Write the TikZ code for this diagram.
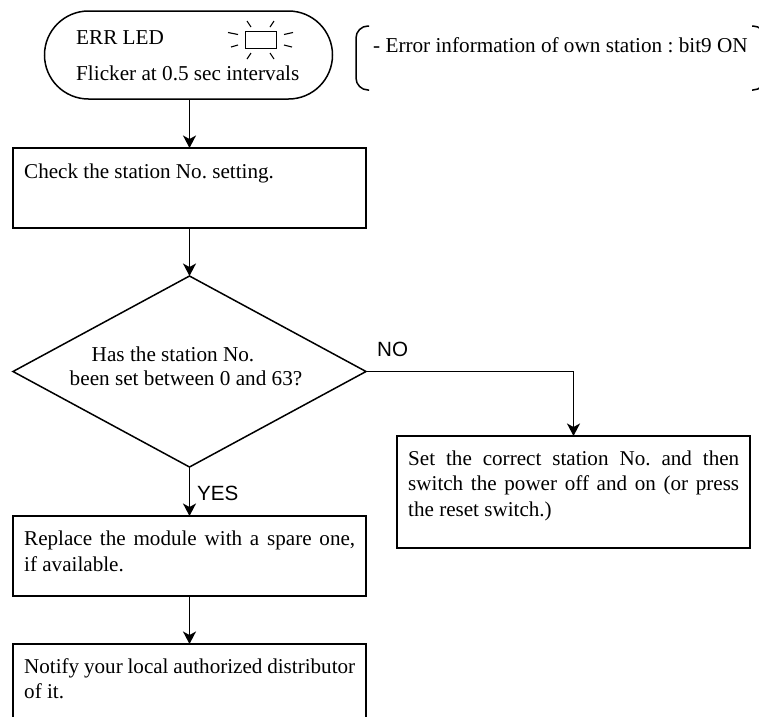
\documentclass[tikz,border=0pt]{standalone}
\usepackage{fontspec}
\setmainfont{Liberation Serif}
\setsansfont{Liberation Sans}
\usetikzlibrary{arrows.meta,shapes.geometric}
\frenchspacing
\tikzset{
  x=1pt,y=-1pt,
  ln/.style={draw=black,line width=1.5pt},
  flowbox/.style={ln,rectangle,inner sep=0pt,outer sep=0pt,anchor=north west},
  boxtext/.style={anchor=north west,inner sep=0pt,text width=#1,align=justify,font=\fontsize{21.1}{25.4}\selectfont},
  plain/.style={inner sep=0pt,anchor=base west,font=\fontsize{21.2}{25}\selectfont},
  flow/.style={ln,-{Stealth[length=12.5pt,width=13pt,inset=3.5pt]}},
  sans/.style={inner sep=0pt,anchor=base west,font=\sffamily\fontsize{20.6}{24}\selectfont},
  ray/.style={draw=black,line width=1.1pt}
}
\begin{document}
\begin{tikzpicture}
\useasboundingbox (0,0) rectangle (759,716);
\clip (0,0) rectangle (759,716);
% start terminal
\node[flowbox,minimum width=288pt,minimum height=88pt,rounded corners=44pt] (start) at (44.5,11) {};
\node[plain] (errled) at (76,44) {ERR LED};
\node[plain] (flicker) at (76,80.5) {Flicker at 0.5 sec intervals};
% LED symbol
\node[draw=black,line width=1.3pt,minimum width=31pt,minimum height=17.5pt,inner sep=0pt] (led) at (261,40) {};
\draw[ray] (228,32.5) -- (238,34.5);
\draw[ray] (231,47) -- (238,45);
\draw[ray] (284,34.5) -- (293,32.5);
\draw[ray] (284,45) -- (292,47);
\draw[ray] (247,21) -- (251,27);
\draw[ray] (274,21) -- (270,27);
\draw[ray] (247,59) -- (251,53);
\draw[ray] (274,59) -- (270,53);
% note bracket
\draw[ln,rounded corners=12pt] (369,26) -- (356,26) -- (356,90) -- (369,90);
\draw[ln,rounded corners=12pt] (752,26) -- (765,26) -- (765,90) -- (752,90);
\node[plain] (note) at (373,52.5) {- Error information of own station : bit9 ON};
% boxes
\node[flowbox,minimum width=353pt,minimum height=80pt] (check) at (13,148) {};
\node[boxtext=331pt] (checkt) at (24,163.5) {Check the station No. setting.};
\node[ln,diamond,aspect=1.84,inner sep=0pt,outer sep=0pt,minimum width=353pt,minimum height=191pt] (dec) at (189.5,371.5) {};
\node[plain,anchor=base] (dect1) at (173,361) {Has the station No.};
\node[plain,anchor=base] (dect2) at (186,385) {been set between 0 and 63?};
\node[flowbox,minimum width=353pt,minimum height=112pt] (fix) at (397,436) {};
\node[boxtext=331pt] (fixt) at (408,450.5) {Set the correct station No. and then switch the power off and on (or press the reset switch.)};
\node[flowbox,minimum width=353pt,minimum height=80pt] (spare) at (13,516) {};
\node[boxtext=331pt] (sparet) at (24,531) {Replace the module with a spare one,\linebreak if available.};
\node[flowbox,minimum width=353pt,minimum height=90pt] (notify) at (13,644) {};
\node[boxtext=331pt] (notifyt) at (24,658.5) {Notify your local authorized distributor of it.};
% connectors
\draw[flow] (start.south -| check.north) -- (check.north);
\draw[flow] (check.south) -- (dec.north);
\draw[flow] (dec.east) -| (fix.north);
\draw[flow] (dec.south) -- (spare.north);
\draw[flow] (spare.south) -- (notify.north);
\node[sans] (no) at (377,356.5) {NO};
\node[sans] (yes) at (197,500) {YES};
\end{tikzpicture}
\end{document}
